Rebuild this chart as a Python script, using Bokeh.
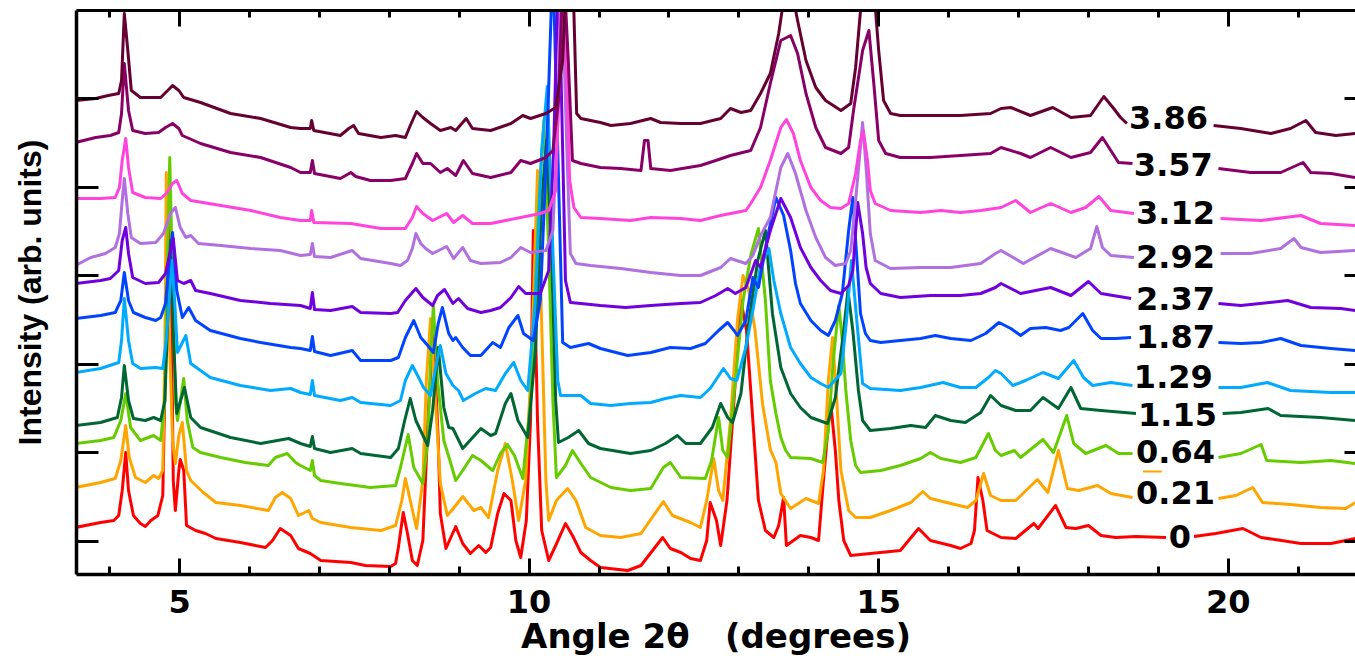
import numpy as np
from bokeh.plotting import figure
from bokeh.models import Range1d, FixedTicker, LinearAxis
from bokeh.embed import file_html
from bokeh.resources import INLINE
from bokeh.core.properties import value

GAP = (float("nan"), float("nan"))

# ---- data: (2theta in degrees, stacked intensity in arb. units) ----
red_0 = [(3.51,47),(3.87,52),(4.06,54),(4.13,59),(4.18,84),(4.23,122),(4.27,84),(4.34,59),(4.44,51),(4.51,48),(4.59,54),(4.69,59),(4.76,79),(4.80,224),(4.84,384),(4.89,224),(4.91,94),(4.94,64),(4.99,104),(5.01,115),(5.06,104),(5.10,49),(5.23,44),(5.37,41),(5.52,36),(5.87,32),(6.23,27),(6.33,34),(6.44,46),(6.59,39),(6.70,26),(6.87,21),(7.02,14),(7.45,12),(7.66,9),(8.02,8),(8.09,11),(8.13,27),(8.20,62),(8.26,41),(8.33,14),(8.40,9),(8.48,34),(8.56,164),(8.63,244),(8.70,134),(8.73,61),(8.81,26),(8.95,48),(9.05,31),(9.16,21),(9.28,29),(9.38,22),(9.45,27),(9.55,61),(9.64,81),(9.74,74),(9.81,34),(9.88,17),(9.96,54),(10.02,154),(10.06,344),(10.12,154),(10.18,44),(10.28,14),(10.38,29),(10.52,51),(10.62,39),(10.74,22),(10.88,14),(11.02,7),(11.41,4),(11.60,9),(11.91,37),(12.02,26),(12.17,22),(12.31,16),(12.45,14),(12.54,34),(12.59,72),(12.68,54),(12.74,29),(12.83,74),(12.93,174),(13.03,274),(13.11,244),(13.20,154),(13.28,74),(13.38,44),(13.50,37),(13.57,49),(13.64,77),(13.68,29),(13.88,39),(14.03,37),(14.14,34),(14.21,94),(14.31,174),(14.38,124),(14.43,74),(14.50,34),(14.60,19),(14.88,21),(15.31,24),(15.57,46),(15.74,34),(16.03,29),(16.17,26),(16.32,31),(16.37,44),(16.42,97),(16.49,74),(16.55,44),(16.75,37),(16.96,36),(17.22,51),(17.28,46),(17.53,69),(17.68,47),(17.82,46),(18.00,49),(18.18,39),(18.39,37),(18.68,38),(19.11,37),GAP,(19.51,38),(19.82,41),(20.21,46),(20.47,37),(21.04,31),(21.47,31),(21.82,36)]

orange_021 = [(3.51,87),(3.87,92),(4.08,96),(4.16,114),(4.23,149),(4.28,117),(4.37,97),(4.51,92),(4.63,99),(4.70,96),(4.76,104),(4.79,224),(4.81,402),(4.86,224),(4.90,134),(4.94,111),(4.99,139),(5.04,152),(5.10,104),(5.16,94),(5.34,82),(5.52,72),(5.87,69),(6.27,64),(6.37,77),(6.47,82),(6.59,76),(6.70,59),(6.85,64),(6.90,56),(7.02,52),(7.45,47),(7.88,44),(8.09,49),(8.18,74),(8.23,96),(8.30,74),(8.39,46),(8.48,94),(8.53,194),(8.59,256),(8.66,174),(8.73,91),(8.83,59),(8.95,69),(9.05,78),(9.21,64),(9.31,67),(9.42,57),(9.55,104),(9.66,131),(9.76,94),(9.85,54),(9.95,94),(10.04,224),(10.12,404),(10.19,224),(10.24,94),(10.28,54),(10.39,74),(10.55,86),(10.67,74),(10.81,47),(11.02,39),(11.31,37),(11.60,41),(11.92,73),(12.05,59),(12.31,52),(12.45,47),(12.54,74),(12.64,116),(12.71,84),(12.77,74),(12.88,154),(12.98,254),(13.06,299),(13.14,285),(13.23,245),(13.34,170),(13.45,125),(13.53,112),(13.60,81),(13.74,66),(13.96,76),(14.14,71),(14.21,104),(14.28,194),(14.34,237),(14.40,174),(14.46,104),(14.57,64),(14.67,57),(14.88,57),(15.17,64),(15.46,72),(15.63,83),(15.74,76),(16.03,71),(16.27,67),(16.39,74),(16.50,101),(16.60,79),(16.75,74),(16.96,74),(17.27,95),(17.42,82),(17.57,124),(17.70,86),(17.86,84),(18.13,89),(18.32,81),(18.63,77),GAP,(19.86,76),(20.11,79),(20.35,87),(20.49,72),(20.89,70),(21.32,67),(21.68,66),(21.82,72)]

green_064 = [(3.51,131),(3.87,134),(4.06,137),(4.16,154),(4.23,181),(4.30,147),(4.44,134),(4.63,139),(4.73,134),(4.79,174),(4.83,324),(4.86,417),(4.90,294),(4.94,174),(4.97,154),(5.06,196),(5.11,154),(5.19,127),(5.30,122),(5.59,117),(5.94,112),(6.27,109),(6.37,117),(6.54,121),(6.66,112),(6.73,109),(6.87,104),(6.90,114),(6.93,99),(7.02,94),(7.30,91),(7.73,87),(8.09,89),(8.16,107),(8.27,140),(8.35,107),(8.48,91),(8.55,134),(8.59,214),(8.63,269),(8.69,194),(8.78,134),(8.88,111),(8.95,94),(9.05,104),(9.19,119),(9.31,114),(9.48,104),(9.59,121),(9.69,130),(9.79,119),(9.91,96),(10.02,174),(10.14,374),(10.21,454),(10.28,324),(10.34,174),(10.39,97),(10.52,109),(10.62,124),(10.74,111),(10.88,97),(11.17,87),(11.45,84),(11.74,86),(11.92,107),(12.02,112),(12.17,97),(12.52,96),(12.61,114),(12.71,157),(12.77,124),(12.84,117),(12.95,194),(13.06,274),(13.17,319),(13.28,346),(13.38,274),(13.45,194),(13.53,161),(13.60,137),(13.67,124),(13.74,117),(14.03,116),(14.20,112),(14.28,144),(14.35,214),(14.43,269),(14.48,234),(14.53,184),(14.60,134),(14.67,109),(14.74,102),(15.03,104),(15.31,109),(15.60,116),(15.74,122),(15.89,116),(16.17,112),(16.39,117),(16.57,141),(16.67,124),(16.75,119),(16.94,124),(17.03,117),(17.35,135),(17.50,122),(17.69,159),(17.79,131),(17.96,121),(18.25,129),(18.43,121),(18.63,121),GAP,(19.86,117),(20.18,121),(20.47,130),(20.55,114),(21.04,112),(21.47,114),(21.82,111)]

dkgreen_115 = [(3.51,149),(3.87,152),(4.11,157),(4.17,177),(4.21,209),(4.27,174),(4.34,156),(4.51,154),(4.63,157),(4.73,154),(4.79,174),(4.83,254),(4.87,334),(4.91,244),(4.96,161),(5.07,187),(5.16,157),(5.30,147),(5.73,137),(6.16,131),(6.56,136),(6.73,131),(6.87,128),(6.90,138),(6.93,126),(7.16,122),(7.47,126),(7.59,121),(8.02,117),(8.13,126),(8.22,154),(8.30,176),(8.38,154),(8.55,129),(8.62,164),(8.70,227),(8.78,167),(8.85,147),(8.91,146),(9.05,126),(9.31,146),(9.45,139),(9.52,141),(9.66,171),(9.74,181),(9.84,154),(9.98,137),(10.09,224),(10.18,374),(10.25,434),(10.32,324),(10.38,174),(10.42,132),(10.56,137),(10.71,144),(10.85,131),(11.02,126),(11.45,121),(11.74,124),(11.95,131),(12.12,139),(12.24,131),(12.45,131),(12.62,147),(12.74,171),(12.84,157),(12.91,152),(13.03,181),(13.14,251),(13.27,314),(13.38,344),(13.48,261),(13.60,207),(13.74,181),(13.88,167),(14.03,157),(14.27,151),(14.38,177),(14.50,244),(14.56,284),(14.63,244),(14.71,184),(14.77,154),(14.88,144),(15.17,146),(15.46,149),(15.67,147),(15.81,159),(16.03,154),(16.24,152),(16.46,162),(16.60,179),(16.75,169),(16.96,164),(17.17,164),(17.35,177),(17.57,166),(17.75,187),(17.89,166),(18.18,164),(18.68,161),GAP,(19.92,161),(20.18,162),(20.57,166),(20.75,159),(21.32,157),(21.82,154)]

ltblue_129 = [(3.51,202),(3.87,206),(4.13,212),(4.17,234),(4.21,276),(4.27,234),(4.33,211),(4.44,206),(4.66,207),(4.76,206),(4.81,234),(4.86,284),(4.89,314),(4.93,274),(4.97,222),(5.09,239),(5.16,211),(5.44,197),(5.87,189),(6.30,184),(6.59,186),(6.73,182),(6.87,180),(6.90,194),(6.93,179),(7.30,174),(7.47,177),(7.59,172),(8.02,169),(8.16,174),(8.23,194),(8.33,209),(8.42,197),(8.49,187),(8.59,179),(8.69,217),(8.73,229),(8.81,201),(8.91,189),(8.99,184),(9.06,174),(9.23,181),(9.38,186),(9.52,184),(9.66,201),(9.78,212),(9.88,194),(9.98,184),(10.09,274),(10.18,424),(10.26,488),(10.34,324),(10.41,194),(10.45,179),(10.55,179),(10.74,179),(10.88,171),(11.17,169),(11.45,171),(11.74,172),(11.95,176),(12.17,179),(12.45,177),(12.59,186),(12.78,206),(12.88,196),(12.97,194),(13.10,227),(13.20,264),(13.31,309),(13.43,326),(13.50,294),(13.60,261),(13.74,227),(13.88,211),(14.03,197),(14.17,191),(14.28,187),(14.46,201),(14.54,254),(14.61,314),(14.70,244),(14.77,191),(14.88,186),(15.31,184),(15.60,187),(15.92,192),(16.17,187),(16.39,187),(16.57,197),(16.67,204),(16.75,201),(16.92,189),(17.10,194),(17.35,202),(17.57,196),(17.79,214),(17.93,197),(18.06,189),(18.32,192),(18.63,189),GAP,(19.86,187),(20.18,187),(20.56,192),(20.89,184),(21.47,182),(21.82,182)]

blue_187 = [(3.51,256),(3.87,259),(4.08,262),(4.16,274),(4.21,302),(4.27,274),(4.34,262),(4.51,257),(4.66,254),(4.73,257),(4.80,271),(4.84,304),(4.90,342),(4.96,284),(5.04,257),(5.13,267),(5.23,254),(5.44,244),(5.87,236),(6.16,232),(6.59,227),(6.73,226),(6.87,224),(6.90,238),(6.93,223),(7.16,219),(7.47,224),(7.59,214),(8.02,214),(8.13,217),(8.23,237),(8.35,254),(8.45,237),(8.55,229),(8.63,222),(8.70,251),(8.76,267),(8.85,241),(8.91,234),(8.95,237),(9.05,227),(9.16,219),(9.31,219),(9.48,232),(9.59,227),(9.71,247),(9.84,259),(9.92,241),(10.06,234),(10.16,274),(10.25,424),(10.34,614),(10.41,424),(10.48,232),(10.59,227),(10.85,231),(11.02,226),(11.41,219),(11.74,222),(12.02,227),(12.31,226),(12.52,231),(12.71,244),(12.84,252),(12.93,244),(12.98,239),(13.10,254),(13.20,297),(13.28,287),(13.40,334),(13.53,377),(13.64,359),(13.74,324),(13.81,291),(13.88,271),(14.03,254),(14.17,244),(14.28,239),(14.38,254),(14.48,281),(14.57,344),(14.63,377),(14.68,324),(14.74,261),(14.81,241),(14.88,234),(15.03,232),(15.31,234),(15.60,236),(15.81,239),(16.03,236),(16.32,234),(16.53,241),(16.72,252),(16.89,246),(17.03,239),(17.17,246),(17.39,247),(17.60,244),(17.72,247),(17.92,261),(18.06,244),(18.18,236),(18.39,236),(18.61,237),GAP,(19.86,232),(20.18,231),(20.47,232),(20.75,236),(21.04,229),(21.47,226),(21.82,224)]

violet_237 = [(3.51,291),(3.87,294),(4.01,296),(4.13,304),(4.18,334),(4.23,347),(4.27,321),(4.33,297),(4.51,291),(4.70,292),(4.80,301),(4.87,324),(4.91,336),(4.97,294),(5.06,291),(5.16,294),(5.23,284),(5.44,281),(5.87,274),(6.30,271),(6.73,269),(6.87,266),(6.90,282),(6.93,265),(7.16,264),(7.47,268),(7.59,262),(8.02,261),(8.12,262),(8.23,274),(8.38,286),(8.48,277),(8.62,269),(8.69,279),(8.79,285),(8.91,271),(8.99,276),(9.12,266),(9.31,262),(9.45,264),(9.59,267),(9.74,277),(9.85,288),(9.95,281),(10.16,281),(10.28,304),(10.35,424),(10.42,614),(10.48,424),(10.52,294),(10.59,272),(10.74,271),(11.02,269),(11.38,267),(11.74,269),(12.17,271),(12.45,272),(12.67,279),(12.84,286),(12.95,281),(13.10,287),(13.24,314),(13.31,307),(13.45,344),(13.60,376),(13.74,357),(13.88,327),(14.03,307),(14.17,294),(14.31,284),(14.46,281),(14.57,289),(14.63,304),(14.70,372),(14.77,341),(14.82,307),(14.88,291),(15.03,281),(15.31,277),(15.74,279),(16.17,279),(16.46,281),(16.67,287),(16.75,291),(17.03,281),(17.46,287),(17.75,279),(18.00,293),(18.18,281),(18.61,276),GAP,(19.86,271),(20.18,269),(20.85,274),(21.18,267),(21.61,266),(21.82,264)]

lilac_292 = [(3.51,309),(3.73,317),(3.94,321),(4.08,327),(4.14,341),(4.18,374),(4.21,396),(4.26,361),(4.31,337),(4.44,331),(4.66,332),(4.77,341),(4.87,361),(4.94,367),(5.01,347),(5.09,337),(5.16,339),(5.27,331),(5.59,329),(6.02,326),(6.44,324),(6.73,319),(6.87,320),(6.90,331),(6.93,318),(7.16,317),(7.47,324),(7.59,316),(8.02,311),(8.16,309),(8.26,314),(8.33,326),(8.38,341),(8.45,331),(8.52,326),(8.62,321),(8.82,328),(8.92,316),(9.05,327),(9.16,314),(9.31,311),(9.59,312),(9.74,317),(9.88,327),(10.02,322),(10.24,324),(10.34,344),(10.41,454),(10.46,614),(10.54,424),(10.59,321),(10.67,311),(10.88,309),(11.31,306),(11.74,302),(12.17,299),(12.45,299),(12.74,307),(12.88,316),(13.10,311),(13.20,319),(13.31,339),(13.45,357),(13.60,407),(13.70,421),(13.81,401),(13.96,364),(14.10,337),(14.24,317),(14.38,309),(14.53,311),(14.60,324),(14.67,374),(14.77,452),(14.82,407),(14.88,341),(14.95,314),(15.17,306),(15.60,307),(16.03,307),(16.46,311),(16.67,321),(16.75,324),(17.07,311),(17.46,326),(17.82,317),(18.03,326),(18.12,348),(18.20,327),(18.32,319),(18.65,317),GAP,(19.89,321),(20.32,321),(20.75,326),(20.94,336),(21.04,327),(21.32,322),(21.82,324)]

pink_312 = [(3.51,376),(3.87,376),(4.08,377),(4.14,387),(4.18,414),(4.23,436),(4.27,407),(4.33,382),(4.51,377),(4.73,376),(4.81,381),(4.90,391),(4.96,394),(5.04,381),(5.16,374),(5.59,369),(6.02,364),(6.44,357),(6.73,354),(6.87,354),(6.89,364),(6.92,352),(7.45,351),(7.88,346),(8.23,346),(8.33,357),(8.39,368),(8.48,361),(8.62,354),(8.82,361),(8.92,352),(9.05,359),(9.19,351),(9.45,351),(9.88,357),(10.16,361),(10.28,364),(10.38,384),(10.44,514),(10.48,614),(10.54,494),(10.58,394),(10.64,367),(10.74,357),(11.02,356),(11.45,354),(11.74,357),(12.17,356),(12.45,354),(12.74,359),(13.10,364),(13.17,371),(13.31,387),(13.45,414),(13.60,447),(13.68,455),(13.78,441),(13.88,414),(14.03,387),(14.17,374),(14.31,367),(14.46,366),(14.57,371),(14.67,401),(14.74,434),(14.78,444),(14.84,414),(14.88,384),(14.95,371),(15.17,364),(15.60,362),(15.89,364),(16.17,362),(16.46,364),(16.75,367),(16.96,374),(17.17,362),(17.46,371),(17.75,362),(17.96,367),(18.15,378),(18.32,364),(18.65,361),GAP,(19.89,356),(20.47,354),(21.04,359),(21.32,351),(21.82,349)]

plum_357 = [(3.51,432),(3.80,437),(4.01,439),(4.13,442),(4.17,461),(4.21,511),(4.27,464),(4.33,444),(4.51,441),(4.70,442),(4.80,447),(4.90,451),(4.99,446),(5.04,439),(5.30,431),(5.73,422),(6.16,417),(6.59,407),(6.73,402),(6.87,402),(6.90,414),(6.93,401),(7.30,396),(7.45,402),(7.52,398),(7.73,394),(8.02,394),(8.23,396),(8.33,411),(8.39,421),(8.48,411),(8.59,411),(8.73,402),(8.83,406),(8.95,399),(9.06,414),(9.19,401),(9.45,397),(9.74,402),(9.88,414),(10.02,411),(10.24,417),(10.34,424),(10.42,474),(10.49,614),(10.56,514),(10.62,414),(10.74,411),(11.02,407),(11.31,406),(11.60,404),(11.65,434),(11.70,434),(11.74,406),(12.02,404),(12.45,409),(12.67,414),(12.88,419),(13.17,424),(13.31,447),(13.45,491),(13.60,534),(13.74,539),(13.84,521),(13.96,481),(14.10,447),(14.24,427),(14.46,421),(14.57,427),(14.64,464),(14.77,524),(14.86,544),(14.93,491),(15.00,434),(15.10,421),(15.31,417),(15.74,417),(16.17,419),(16.60,421),(16.75,427),(17.03,421),(17.17,417),(17.46,427),(17.75,417),(18.03,422),(18.20,437),(18.32,424),(18.43,412),(18.63,411),GAP,(19.86,406),(20.32,402),(20.75,402),(21.07,412),(21.18,402),(21.47,401),(21.82,397)]

maroon_386 = [(3.51,474),(3.80,476),(3.98,479),(4.13,481),(4.17,494),(4.21,561),(4.26,524),(4.31,484),(4.44,477),(4.73,477),(4.83,484),(4.90,489),(4.99,484),(5.06,477),(5.30,472),(5.73,461),(6.16,456),(6.59,447),(6.73,446),(6.87,446),(6.89,454),(6.92,444),(7.30,439),(7.42,446),(7.49,449),(7.56,441),(7.88,437),(8.09,439),(8.23,437),(8.30,449),(8.39,463),(8.48,457),(8.59,451),(8.73,444),(8.88,447),(8.95,444),(9.10,456),(9.19,446),(9.45,444),(9.74,451),(9.91,459),(10.02,456),(10.24,461),(10.38,467),(10.48,514),(10.54,614),(10.62,614),(10.68,461),(10.74,456),(11.02,452),(11.17,449),(11.45,451),(11.74,456),(11.88,452),(12.17,451),(12.45,451),(12.74,456),(12.88,466),(13.03,462),(13.17,464),(13.31,481),(13.45,501),(13.57,541),(13.65,579),(13.77,579),(13.84,554),(13.96,514),(14.10,487),(14.24,474),(14.46,464),(14.60,471),(14.67,507),(14.74,564),(14.82,604),(14.91,604),(15.00,524),(15.07,474),(15.17,461),(15.31,459),(15.74,459),(16.17,459),(16.60,461),(16.75,466),(16.89,467),(17.17,459),(17.49,467),(17.75,457),(18.03,459),(18.22,478),(18.35,467),(18.46,457),(18.55,451),GAP,(19.79,449),(20.18,446),(20.61,441),(20.89,446),(21.11,454),(21.25,442),(21.54,439),(21.82,441)]

conc_labels = ["0", "0.21", "0.64", "1.15", "1.29", "1.87", "2.37", "2.92", "3.12", "3.57", "3.86"]
series_colors = ["#FF0000", "#FFA500", "#66CC00", "#006633", "#00AAFF", "#0044FF",
                 "#7000DD", "#B070E0", "#FF44DD", "#880066", "#660033"]
series_points = [red_0, orange_021, green_064, dkgreen_115, ltblue_129, blue_187,
                 violet_237, lilac_292, pink_312, plum_357, maroon_386]

label_x = [19.15, 18.68, 18.68, 18.71, 18.65, 18.68, 18.68, 18.68, 18.68, 18.65, 18.58]
label_y = [38, 82, 123, 160, 198, 238, 276, 318, 362, 410, 457]

orange_mark_x = [18.78, 19.05]
orange_mark_y = [103, 103]

x_major_ticks = [5, 10, 15, 20]
x_minor_ticks = [4, 6, 7, 8, 9, 11, 12, 13, 14, 16, 17, 18, 19, 21]
y_tick_positions = [33, 121.6, 210.2, 298.8, 387.4, 476]

# ---- figure ----
p = figure(width=1355, height=661, output_backend="svg", toolbar_location=None,
           x_range=Range1d(3.526, 21.82), y_range=Range1d(0, 564),
           min_border_left=76, min_border_right=0, min_border_top=10, min_border_bottom=87)
p.background_fill_color = "white"
p.border_fill_color = "white"
p.outline_line_color = None
p.xgrid.visible = False
p.ygrid.visible = False

for color, pts in zip(series_colors, series_points):
    xs = np.array([q[0] for q in pts], dtype=float)
    ys = np.array([q[1] for q in pts], dtype=float)
    p.line(xs, ys, line_color=color, line_width=3, line_join="round")

p.line(orange_mark_x, orange_mark_y, line_color="#FFA500", line_width=2)

p.text(x=label_x, y=label_y, text=conc_labels, text_font=value("DejaVu Sans"),
       text_font_style="bold", text_font_size="32px", text_align="left",
       text_baseline="alphabetic", text_color="black")

# bottom axis
xa = p.xaxis[0]
xa.ticker = FixedTicker(ticks=x_major_ticks, minor_ticks=x_minor_ticks)
xa.axis_label = "Angle 2\u03b8 \u00a0\u00a0(degrees)"
xa.axis_label_text_font = "DejaVu Sans"
xa.axis_label_text_font_style = "bold"
xa.axis_label_text_font_size = "34px"
xa.axis_label_text_color = "black"
xa.axis_label_standoff = 0
xa.major_label_text_font = "DejaVu Sans"
xa.major_label_text_font_style = "bold"
xa.major_label_text_font_size = "32px"
xa.major_label_text_color = "black"
xa.major_label_standoff = 15
xa.major_tick_in = 16
xa.major_tick_out = 0
xa.minor_tick_in = 8
xa.minor_tick_out = 0
xa.axis_line_width = 3.5
xa.major_tick_line_width = 3
xa.minor_tick_line_width = 3
xa.axis_line_color = "black"

# top axis (ticks only)
top = LinearAxis(ticker=FixedTicker(ticks=x_major_ticks, minor_ticks=x_minor_ticks),
                 major_label_text_font_size="0px", major_label_text_color=None,
                 major_label_standoff=0,
                 major_tick_in=16, major_tick_out=0, minor_tick_in=7, minor_tick_out=0,
                 axis_line_width=3, major_tick_line_width=3, minor_tick_line_width=3)
p.add_layout(top, "above")

# left axis
ya = p.yaxis[0]
ya.ticker = FixedTicker(ticks=y_tick_positions, minor_ticks=[])
ya.major_label_text_font_size = "0px"
ya.major_label_text_color = None
ya.major_label_standoff = 0
ya.major_tick_in = 22
ya.major_tick_out = 0
ya.minor_tick_in = 0
ya.minor_tick_out = 0
ya.axis_line_width = 3.5
ya.major_tick_line_width = 3
ya.axis_label = "Intensity (arb. units)"
ya.axis_label_text_font = "Liberation Sans"
ya.axis_label_text_font_style = "bold"
ya.axis_label_text_font_size = "32px"
ya.axis_label_text_color = "black"
ya.axis_label_standoff = 29

# right axis (ticks only)
right = LinearAxis(ticker=FixedTicker(ticks=y_tick_positions, minor_ticks=[]),
                   major_label_text_font_size="0px", major_label_text_color=None,
                   major_label_standoff=0,
                   major_tick_in=11, major_tick_out=0, minor_tick_in=0, minor_tick_out=0,
                   axis_line_alpha=0, major_tick_line_width=3)
p.add_layout(right, "right")

open("out.html", "w").write(file_html(p, INLINE))
